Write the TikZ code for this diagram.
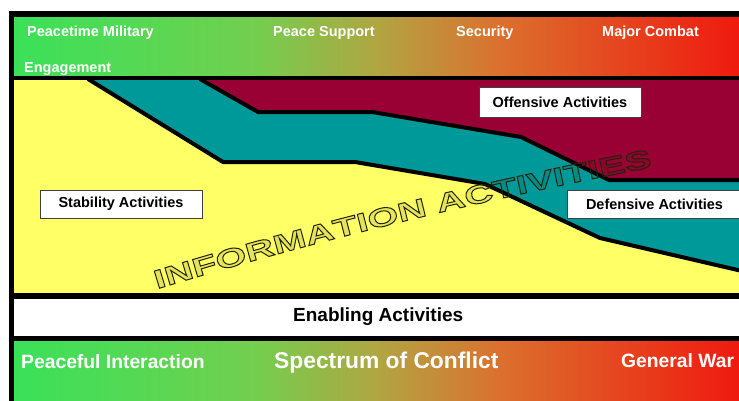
\documentclass[tikz,border=0pt]{standalone}
\usepackage{fontspec}
\setmainfont{Liberation Sans}
\newfontfamily\wordart[FakeStretch=1.53]{Liberation Sans}
\usetikzlibrary{decorations.text}
\definecolor{chartyellow}{RGB}{255,255,102}
\definecolor{chartteal}{RGB}{0,153,153}
\definecolor{chartmaroon}{RGB}{153,0,51}
\definecolor{wordline}{RGB}{35,35,10}
\pgfdeclarehorizontalshading{spectrum}{100bp}{rgb(0bp)=(0.23,0.88,0.35); rgb(25bp)=(0.23,0.88,0.35); rgb(33bp)=(0.33,0.85,0.33); rgb(41.5bp)=(0.45,0.81,0.31); rgb(50bp)=(0.69,0.65,0.26); rgb(58.5bp)=(0.86,0.44,0.18); rgb(75bp)=(0.94,0.10,0.06); rgb(100bp)=(0.94,0.10,0.06)}
\newcommand\outlinemode{\pgfsetfillopacity{0.12}\special{pdf:literal direct 2 Tr 1 w}}
\begin{document}
\begin{tikzpicture}[x=1pt,y=-1pt,
  toplabel/.style={anchor=base west, inner sep=0, text=white, font=\bfseries\fontsize{14.5}{16}\selectfont},
  bottomlabel/.style={anchor=base west, inner sep=0, text=white, font=\bfseries\fontsize{19.3}{22}\selectfont},
  actbox/.style={draw=black!75, line width=0.9pt, fill=white, inner sep=0, minimum height=28pt, font=\bfseries\fontsize{14.5}{16}\selectfont},
  boundary/.style={line width=4pt, line join=round, draw=black}]
\useasboundingbox (0,0) rectangle (739,400);
% frame
\fill[black] (9,11) rectangle (745,405);
% top band
\shade[shading=spectrum] (14,17) rectangle (739,75);
% chart area
\fill[chartyellow] (14,80) rectangle (739,293);
\fill[chartteal] (88,80) -- (223,162) -- (355,162) -- (485,184) -- (600,238) -- (739,270) -- (739,80) -- cycle;
\fill[chartmaroon] (200,80) -- (258,112) -- (372,112) -- (521,137) -- (609,180) -- (739,180) -- (739,80) -- cycle;
\draw[boundary] (88,79) -- (223,162) -- (355,162) -- (485,184) -- (600,238) -- (742,271);
\draw[boundary] (200,79) -- (258,112) -- (372,112) -- (521,137) -- (609,180) -- (742,180);
% enabling band
\fill[white] (14,299) rectangle (739,336);
% bottom band
\shade[shading=spectrum] (14,341) rectangle (739,400);
% top labels
\node[toplabel] (pmil) at (27,36.5) {Peacetime Military};
\node[toplabel] (eng) at (24,72) {Engagement};
\node[toplabel] (psup) at (273,36.5) {Peace Support};
\node[toplabel] (sec) at (456,36.5) {Security};
\node[toplabel] (mcom) at (602,36.5) {Major Combat};
% activity boxes
\node[actbox, minimum width=162pt] (stab) at (121,204) {Stability Activities};
\node[actbox, minimum width=162pt, minimum height=30pt] (off) at (560,102) {Offensive Activities};
\node[actbox, minimum width=175pt] (def) at (654.5,204) {Defensive Activities};
% enabling
\node[anchor=base west, inner sep=0, font=\bfseries\fontsize{19}{22}\selectfont] (enab) at (293,321.7) {Enabling Activities};
% bottom labels
\node[bottomlabel] (peace) at (21,368) {Peaceful Interaction};
\node[bottomlabel, font=\bfseries\fontsize{22.8}{26}\selectfont] (spec) at (274,368) {Spectrum of Conflict};
\node[bottomlabel] (gwar) at (621,367.5) {General War};
% word art
\path[decorate, decoration={text along path, text={|\wordart\bfseries\fontsize{26}{30}\selectfont\color{wordline}\outlinemode|INFORMATION ACTIVITIES}}]
  (157,289) .. controls (319.5,239.3) and (485,199.4) .. (652,167) -- (700,157.6);
\end{tikzpicture}
\end{document}
